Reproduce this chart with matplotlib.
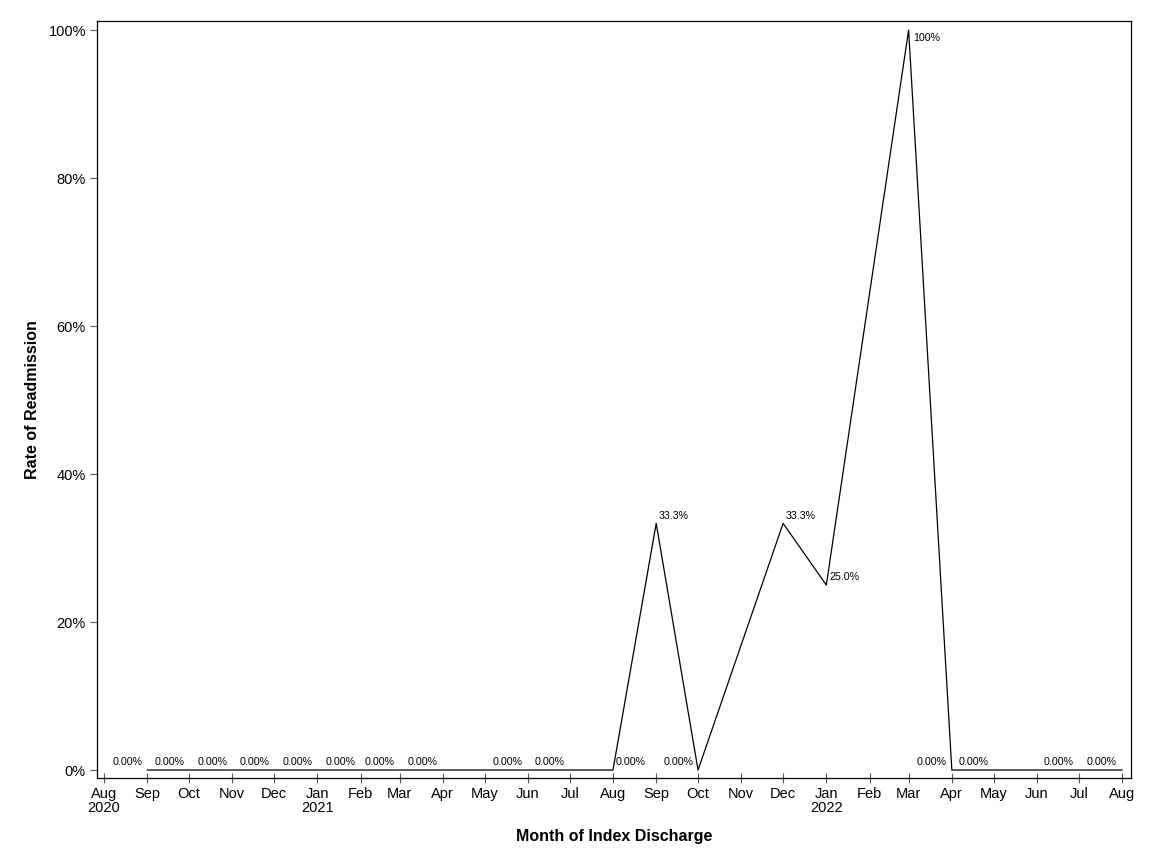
import matplotlib

matplotlib.use("Agg")
import matplotlib.pyplot as plt
from matplotlib.ticker import FuncFormatter
import pandas as pd


# months of index discharge that have data, with the readmission rate
months = [
    "2020-09", "2020-10", "2020-11", "2020-12", "2021-01", "2021-02",
    "2021-03", "2021-04", "2021-06", "2021-07", "2021-08", "2021-09",
    "2021-10", "2021-12", "2022-01", "2022-03", "2022-04", "2022-05",
    "2022-07", "2022-08",
]
rates = [
    0.0, 0.0, 0.0, 0.0, 0.0, 0.0,
    0.0, 0.0, 0.0, 0.0, 0.0, 1 / 3,
    0.0, 1 / 3, 0.25, 1.0, 0.0, 0.0,
    0.0, 0.0,
]
labels = [
    "0.00%", "0.00%", "0.00%", "0.00%", "0.00%", "0.00%",
    "0.00%", "0.00%", "0.00%", "0.00%", "0.00%", "33.3%",
    "0.00%", "33.3%", "25.0%", "100%", "0.00%", "0.00%",
    "0.00%", "0.00%",
]
label_side = [
    "left", "left", "left", "left", "left", "left",
    "left", "left", "left", "left", "right", "right",
    "left", "right", "right", "below", "left", "left",
    "left", "left",
]

FONT = ["Liberation Sans", "DejaVu Sans"]
plt.rcParams["font.family"] = FONT


def main():
    dates = pd.to_datetime(months)
    fig = plt.figure(figsize=(11.52, 8.64), dpi=100)
    ax = fig.add_axes([0.0842, 0.0995, 0.8976, 0.8762])

    ax.plot(dates, rates, color="black", linewidth=0.9)

    for d, r, text, side in zip(dates, rates, labels, label_side):
        if side == "left":
            off, ha, va = (-3.5, 2), "right", "bottom"
        elif side == "right":
            off, ha, va = (2, 2), "left", "bottom"
        else:
            off, ha, va = (3, -2), "left", "top"
        ax.annotate(text, (d, r), xytext=off, textcoords="offset points",
                    ha=ha, va=va, fontsize=7.7)

    ax.set_xlim(pd.Timestamp("2020-07-27"), pd.Timestamp("2022-08-07 12:00"))
    ax.set_ylim(-0.0108, 1.0122)

    ticks = pd.date_range("2020-08-01", "2022-08-01", freq="MS")
    tick_labels = []
    for t in ticks:
        lab = t.strftime("%b")
        if t == ticks[0] or t.month == 1:
            lab += "\n" + str(t.year)
        tick_labels.append(lab)
    ax.set_xticks(ticks)
    ax.set_xticklabels(tick_labels, fontsize=10.5, linespacing=1.0)
    ax.set_yticks([0, 0.2, 0.4, 0.6, 0.8, 1.0])
    ax.yaxis.set_major_formatter(FuncFormatter(lambda v, p: f"{v * 100:.0f}%"))
    ax.tick_params(axis="y", direction="out", length=5, width=0.8,
                   labelsize=10.5, color="#555555", pad=3)
    ax.tick_params(axis="x", direction="inout", length=7, width=0.8,
                   labelsize=10.5, color="#555555", pad=3)

    for s in ax.spines.values():
        s.set_linewidth(0.9)

    ax.set_xlabel("Month of Index Discharge", fontsize=11.5, fontweight="bold",
                  labelpad=10)
    ax.set_ylabel("Rate of Readmission", fontsize=11.5, fontweight="bold",
                  labelpad=6)

    fig.savefig("out.png", dpi=100)
    plt.close(fig)


if __name__ == "__main__":
    main()
